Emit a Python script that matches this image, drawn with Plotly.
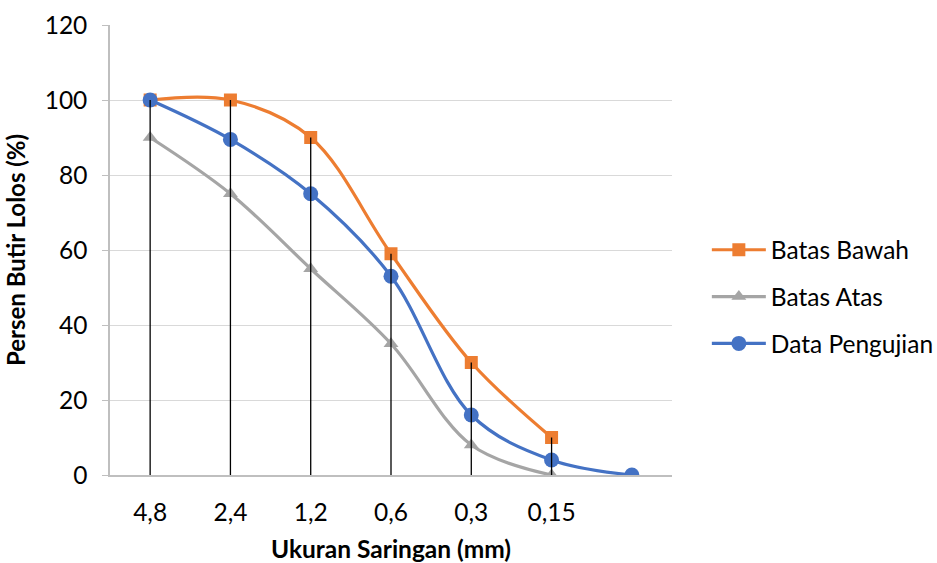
import plotly.graph_objects as go

categories = ["4,8", "2,4", "1,2", "0,6", "0,3", "0,15", ""]
batas_bawah = [100, 100, 90, 59, 30, 10, None]
batas_atas = [90, 75, 55, 35, 8, 0, None]
data_pengujian = [100, 89.5, 75, 53, 16, 4, 0]

xs = list(range(len(categories)))
FONT = "Lato"

fig = go.Figure()
fig.add_trace(go.Scatter(x=xs, y=batas_bawah, name="Batas Bawah", mode="lines+markers",
                         line=dict(color="#ED7D31", width=3.2, shape="spline"),
                         marker=dict(symbol="square", size=13, color="#ED7D31"),
                         legendgroup="a"))
fig.add_trace(go.Scatter(x=xs, y=batas_atas, name="Batas Atas", mode="lines+markers",
                         line=dict(color="#A5A5A5", width=3.2, shape="spline"),
                         marker=dict(symbol="triangle-up", size=13, color="#A5A5A5"),
                         legendgroup="b"))
fig.add_trace(go.Scatter(x=xs, y=data_pengujian, name="Data Pengujian", mode="lines+markers",
                         line=dict(color="#4472C4", width=3.2, shape="spline"),
                         marker=dict(symbol="circle", size=15, color="#4472C4"),
                         legendgroup="c"))

# drop lines from the highest value down to the axis
dx, dy = [], []
for i in xs:
    vals = [v for v in (batas_bawah[i], batas_atas[i], data_pengujian[i]) if v is not None]
    top = max(vals)
    dx += [i, i, None]
    dy += [top, 0, None]
fig.add_trace(go.Scatter(x=dx, y=dy, mode="lines", line=dict(color="black", width=1.3),
                         showlegend=False, hoverinfo="skip"))

fig.update_layout(
    width=937, height=563,
    margin=dict(l=110, r=265, t=25, b=88, autoexpand=False),
    plot_bgcolor="white", paper_bgcolor="white",
    font=dict(family=FONT, size=24, color="black"),
    legend=dict(x=1.062, y=0.396, xanchor="left", yanchor="middle",
                font=dict(family=FONT, size=24.5), tracegroupgap=12,
                itemwidth=54),
    xaxis=dict(range=[-0.5, 6.5], tickvals=xs, ticktext=categories, automargin=False,
               showline=True, linecolor="#BFBFBF", linewidth=1.5,
               showgrid=False, ticks="", zeroline=False, ticklabelstandoff=15,
               title=dict(text="<b>Ukuran Saringan (mm)</b>", font=dict(size=24.5), standoff=16),
               tickfont=dict(size=24.5)),
    yaxis=dict(range=[0, 120], dtick=20, showline=True, linecolor="#BFBFBF", linewidth=1.5,
               automargin=False,
               showgrid=True, gridcolor="#D9D9D9", gridwidth=1.3,
               ticks="outside", ticklen=6, tickcolor="#BFBFBF", zeroline=False,
               ticklabelstandoff=10,
               title=dict(text="<b>Persen Butir Lolos (%)</b>", font=dict(size=24), standoff=12),
               tickfont=dict(size=24.5)),
)

fig.write_html("out.html")
